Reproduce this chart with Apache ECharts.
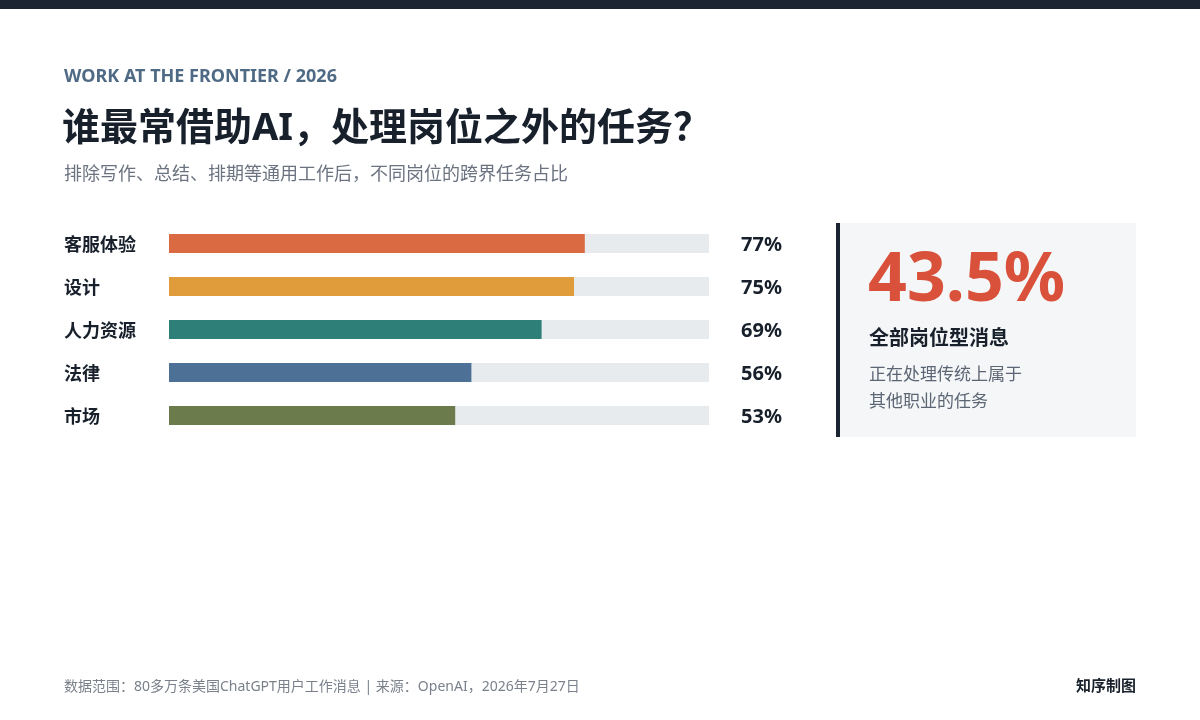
<!DOCTYPE html>
<html>
<head>
<meta charset="utf-8">
<title>谁最常借助AI，处理岗位之外的任务？</title>
<script src="https://cdn.jsdelivr.net/npm/echarts@6/dist/echarts.min.js"></script>
<style>
  html, body { margin: 0; padding: 0; background: #fff; }
  #chart { width: 1200px; height: 720px; }
</style>
</head>
<body>
<div id="chart"></div>
<script>
  // 数据
  var roles = ['客服体验', '设计', '人力资源', '法律', '市场'];
  var shares = [77, 75, 69, 56, 53];
  var barColors = ['#d96a42', '#e09b3a', '#2e7f78', '#4d7096', '#6b7b4b'];
  var maxShare = 100;
  var headline = '43.5%';

  var FONT = '"Noto Sans", "Noto Sans CJK SC", sans-serif';
  var DARK = '#17202b';

  var chart = echarts.init(document.getElementById('chart'));

  var option = {
    backgroundColor: '#ffffff',
    animation: false,
    grid: { left: 169, top: 222, width: 540, height: 215 },
    xAxis: { type: 'value', min: 0, max: maxShare, show: false },
    yAxis: {
      type: 'category',
      data: roles,
      inverse: true,
      axisLine: { show: false },
      axisTick: { show: false },
      axisLabel: {
        align: 'left',
        margin: 105,
        formatter: function(v) { return '{a|' + v + '}'; },
        rich: {
          a: {
            padding: [5, 0, 0, 0],
            color: DARK,
            fontSize: 18,
            fontWeight: 'bold',
            fontFamily: FONT
          }
        }
      }
    },
    series: [
      {
        // 灰色底条 + 右侧百分比
        type: 'bar',
        barWidth: 19,
        silent: true,
        data: roles.map(function() { return maxShare; }),
        itemStyle: { color: '#e8ebee' },
        label: {
          show: true,
          position: 'right',
          distance: 32,
          offset: [0, 2],
          color: DARK,
          fontSize: 20,
          fontWeight: 'bold',
          fontFamily: FONT,
          formatter: function(p) { return shares[p.dataIndex] + '%'; }
        }
      },
      {
        type: 'bar',
        barWidth: 19,
        barGap: '-100%',
        data: shares.map(function(v, i) {
          return { value: v, itemStyle: { color: barColors[i] } };
        })
      }
    ],
    graphic: [
      { type: 'rect', shape: { x: 0, y: 0, width: 1200, height: 9 }, style: { fill: '#1b2431' } },
      {
        type: 'text', left: 64, top: 68,
        style: { text: 'WORK AT THE FRONTIER / 2026', fill: '#4f6a84', fontSize: 18, fontWeight: 'bold', fontFamily: FONT }
      },
      {
        type: 'text', left: 62, top: 110,
        style: { text: '谁最常借助AI，处理岗位之外的任务？', fill: DARK, fontSize: 38, fontWeight: 'bold', fontFamily: FONT }
      },
      {
        type: 'text', left: 64, top: 166,
        style: { text: '排除写作、总结、排期等通用工作后，不同岗位的跨界任务占比', fill: '#6b7280', fontSize: 18, fontFamily: FONT }
      },
      // 右侧卡片
      { type: 'rect', shape: { x: 836, y: 223, width: 300, height: 214 }, style: { fill: '#f4f6f8' } },
      { type: 'rect', shape: { x: 836, y: 223, width: 4, height: 214 }, style: { fill: '#1b2431' } },
      {
        type: 'text', left: 868, top: 248,
        style: { text: headline, fill: '#d9513a', fontSize: 68, fontWeight: 'bold', fontFamily: FONT }
      },
      {
        type: 'text', left: 869, top: 329,
        style: { text: '全部岗位型消息', fill: DARK, fontSize: 20, fontWeight: 'bold', fontFamily: FONT }
      },
      {
        type: 'text', left: 869, top: 362,
        style: { text: '正在处理传统上属于\n其他职业的任务', fill: '#5b6573', fontSize: 17, lineHeight: 27, fontFamily: FONT }
      },
      // 页脚
      {
        type: 'text', left: 64, top: 680,
        style: { text: '数据范围：80多万条美国ChatGPT用户工作消息 | 来源：OpenAI，2026年7月27日', fill: '#7a818b', fontSize: 14, fontFamily: FONT }
      },
      {
        type: 'text', right: 64, top: 679,
        style: { text: '知序制图', fill: DARK, fontSize: 15, fontWeight: 'bold', fontFamily: FONT }
      }
    ]
  };

  chart.setOption(option);
</script>
</body>
</html>
